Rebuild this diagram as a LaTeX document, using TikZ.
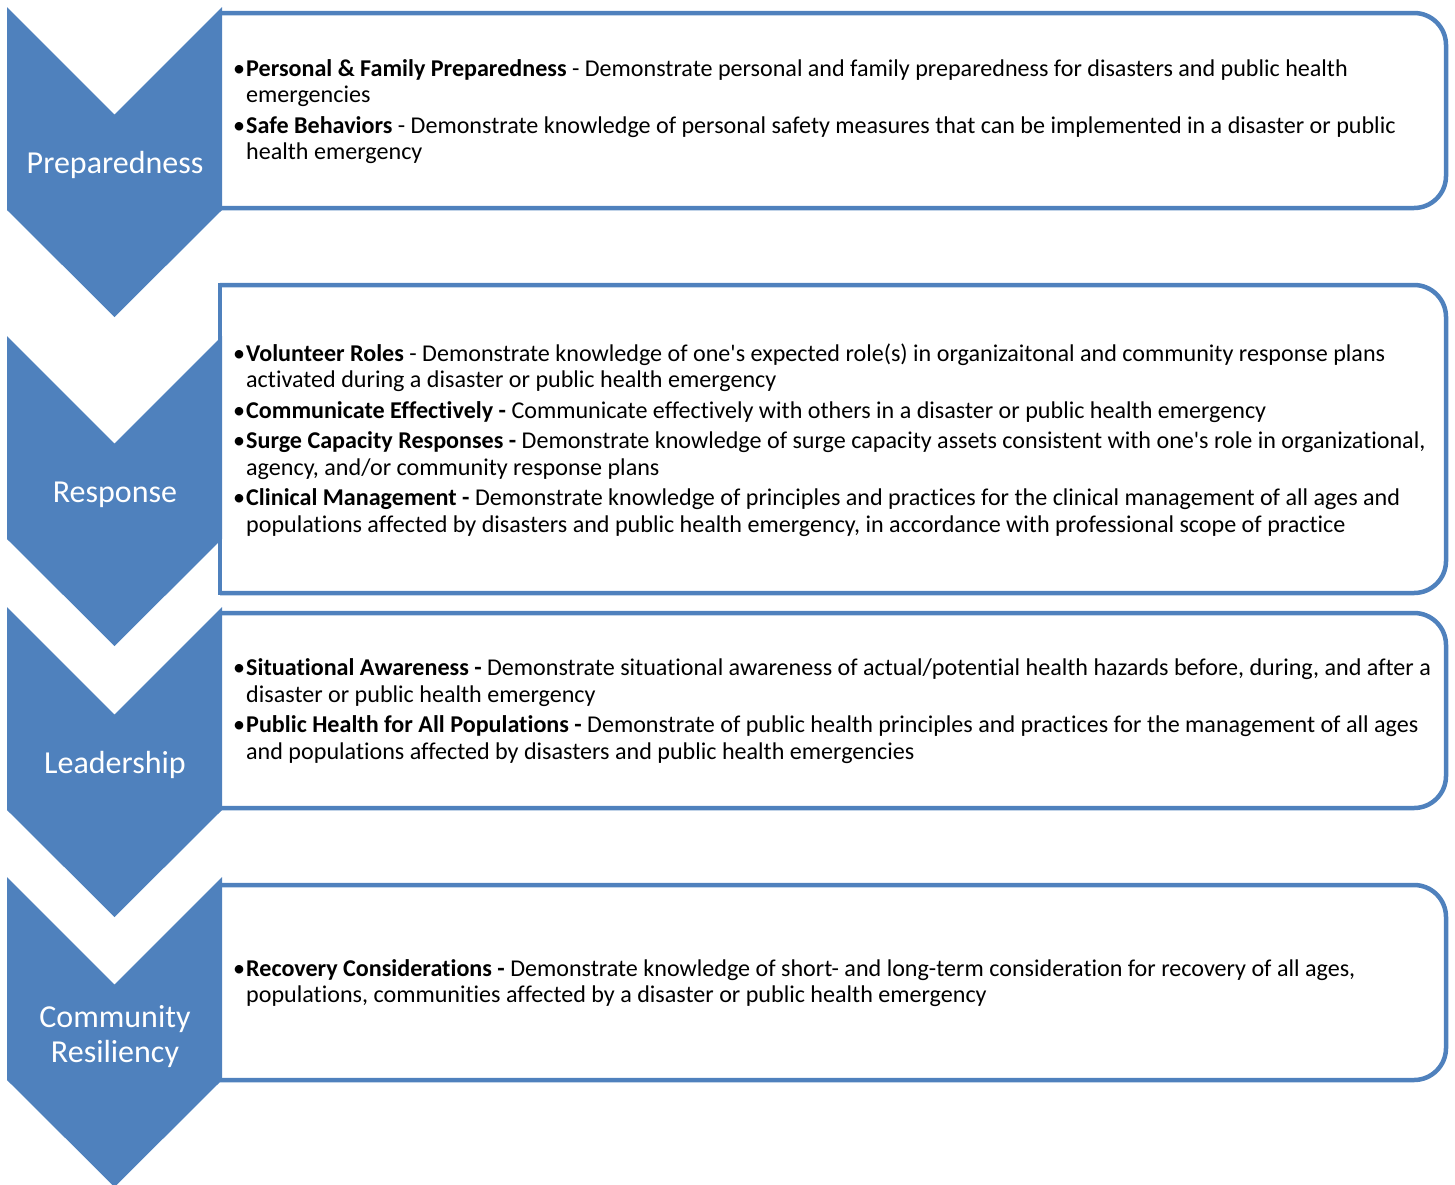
\documentclass[tikz,border=0pt]{standalone}
\usepackage{fontspec}
\setmainfont{Carlito}[Ligatures={NoCommon,TeXOff}]
\definecolor{chblue}{RGB}{79,129,189}
\newcommand{\itm}[1]{\makebox[13pt][l]{•}#1}
\newcommand{\cnt}{\hspace*{13pt}}
\begin{document}
\begin{tikzpicture}[x=1pt,y=-1pt,
  boxline/.style={draw=chblue,line width=4.5pt},
  chev/.style={fill=chblue,draw=none},
  lbl/.style={text=white,font=\fontsize{32}{35}\selectfont,align=center,inner sep=0pt},
  txt/.style={text=black,font=\fontsize{24.1}{26.5}\selectfont,align=left,inner sep=0pt,anchor=west}]
\useasboundingbox (0,0) rectangle (1455,1184);
\clip (0,0) rectangle (1455,1184);
% boxes
\foreach \L/\T/\B in {220/13/208, 220/285/593, 220/613/808, 220/885/1080}{
  \draw[boxline,rounded corners=32pt] (\L,\T) -- (1446,\T) -- (1446,\B) -- (\L,\B);
  \draw[boxline,line cap=rect] (\L,\T) -- (\L,\B);
}
% chevrons
\foreach \t in {7,336,607,877}{
  \fill[chev] (7,\t) -- (114.5,\t+107.5) -- (222,\t) -- (222,\t+203) -- (114.5,\t+310) -- (7,\t+203) -- cycle;
}
% labels
\node[lbl] (l1) at (115,165) {Preparedness};
\node[lbl] (l2) at (115,495) {Response};
\node[lbl] (l3) at (115,765) {Leadership};
\node[lbl] (l4) at (115,1037) {Community\\Resiliency};
% texts
\node[txt] (t1) at (233,111.5) {\itm{\textbf{Personal \& Family Preparedness} - Demonstrate personal and family preparedness for disasters and public health}\\
\cnt emergencies\\[4pt]
\itm{\textbf{Safe Behaviors} - Demonstrate knowledge of personal safety measures that can be implemented in a disaster or public}\\
\cnt health emergency};
\node[txt] (t2) at (233,440) {\itm{\textbf{Volunteer Roles} - Demonstrate knowledge of one's expected role(s) in organizaitonal and community response plans}\\
\cnt activated during a disaster or public health emergency\\[4pt]
\itm{\textbf{Communicate Effectively -} Communicate effectively with others in a disaster or public health emergency}\\[4pt]
\itm{\textbf{Surge Capacity Responses -} Demonstrate knowledge of surge capacity assets consistent with one's role in organizational,}\\
\cnt agency, and/or community response plans\\[4pt]
\itm{\textbf{Clinical Management -} Demonstrate knowledge of principles and practices for the clinical management of all ages and}\\
\cnt populations affected by disasters and public health emergency, in accordance with professional scope of practice};
\node[txt] (t3) at (233,711) {\itm{\textbf{Situational Awareness -} Demonstrate situational awareness of actual/potential health hazards before, during, and after a}\\
\cnt disaster or public health emergency\\[4pt]
\itm{\textbf{Public Health for All Populations -} Demonstrate of public health principles and practices for the management of all ages}\\
\cnt and populations affected by disasters and public health emergencies};
\node[txt] (t4) at (233,983) {\itm{\textbf{Recovery Considerations -} Demonstrate knowledge of short- and long-term consideration for recovery of all ages,}\\
\cnt populations, communities affected by a disaster or public health emergency};
\end{tikzpicture}
\end{document}
